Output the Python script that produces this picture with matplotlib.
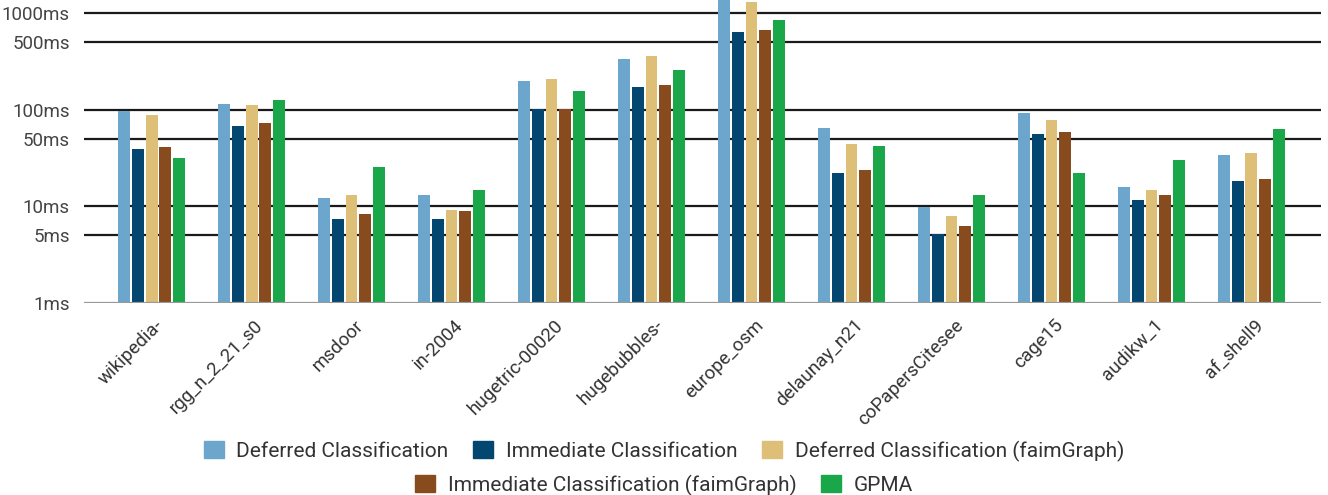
import matplotlib
matplotlib.use('Agg')
import matplotlib.pyplot as plt
import matplotlib.patches as mpatches
import numpy as np

plt.rcParams['font.family'] = ['Roboto', 'DejaVu Sans']

graphs = ['wikipedia-', 'rgg_n_2_21_s0', 'msdoor', 'in-2004', 'hugetric-00020',
          'hugebubbles-', 'europe_osm', 'delaunay_n21', 'coPapersCitesee',
          'cage15', 'audikw_1', 'af_shell9']

series_names = ['Deferred Classification', 'Immediate Classification',
                'Deferred Classification (faimGraph)',
                'Immediate Classification (faimGraph)', 'GPMA']

deferred = [97, 115, 12.2, 13.2, 199, 331, 1350, 65, 9.9, 92, 15.8, 34]
immediate = [39, 67, 7.4, 7.4, 101, 172, 630, 22, 5.2, 56, 11.5, 18.3]
deferred_faim = [87, 111, 13.2, 9.2, 208, 356, 1306, 44, 8.0, 78, 14.8, 35.5]
immediate_faim = [41, 72, 8.3, 8.9, 101, 179, 662, 23.7, 6.2, 58, 13.2, 19.2]
gpma = [31.5, 125, 25.4, 14.7, 155, 257, 845, 42, 13.2, 22, 30.2, 63]

colors = ['#6CA6CD', '#03466F', '#DDBF78', '#874B1E', '#19A74A']
yticks = [1, 5, 10, 50, 100, 500, 1000]
ylabels = ['1ms', '5ms', '10ms', '50ms', '100ms', '500ms', '1000ms']

data = [deferred, immediate, deferred_faim, immediate_faim, gpma]

fig = plt.figure(figsize=(13.28, 4.95), dpi=100)
ax = fig.add_axes([0.063, 0.388, 0.932, 0.612])

x = np.arange(len(graphs))
step = 0.1375
width = 0.118
for i, vals in enumerate(data):
    ax.bar(x + (i - 2) * step, vals, width, color=colors[i], zorder=3)

ax.set_yscale('log')
ax.set_ylim(1, 1360)
ax.set_xlim(-0.68, 11.7)
ax.set_yticks(yticks)
ax.set_yticklabels(ylabels, fontsize=13.5, color='#444444')
ax.yaxis.set_minor_locator(matplotlib.ticker.NullLocator())
for t in yticks[1:]:
    ax.axhline(t, color='#1a1a1a', lw=1.6, zorder=1)
ax.axhline(1, color='#999999', lw=1.6, zorder=4)

# labels sit a bit right of the group centre, like the original
ax.set_xticks(x + 0.09)
ax.set_xticklabels(graphs, rotation=45, ha='right', va='center',
                   rotation_mode='anchor', fontsize=13.5, color='#333333')
ax.tick_params(axis='y', length=0, pad=10)
ax.tick_params(axis='x', length=0, pad=14)
for s in ax.spines.values():
    s.set_visible(False)

handles = [mpatches.Patch(color=c) for c in colors]
leg_kw = dict(loc='center', frameon=False, fontsize=15, handlelength=0.95,
              handleheight=0.85, handletextpad=0.6, columnspacing=1.2)
leg1 = fig.legend(handles[:3], series_names[:3], ncol=3,
                  bbox_to_anchor=(0.5, 1 - 451 / 495), **leg_kw)
leg2 = fig.legend(handles[3:], series_names[3:], ncol=2,
                  bbox_to_anchor=(0.5, 1 - 485 / 495), **leg_kw)
for leg in (leg1, leg2):
    for t in leg.get_texts():
        t.set_color('#333333')

fig.savefig('out.png', dpi=100)
